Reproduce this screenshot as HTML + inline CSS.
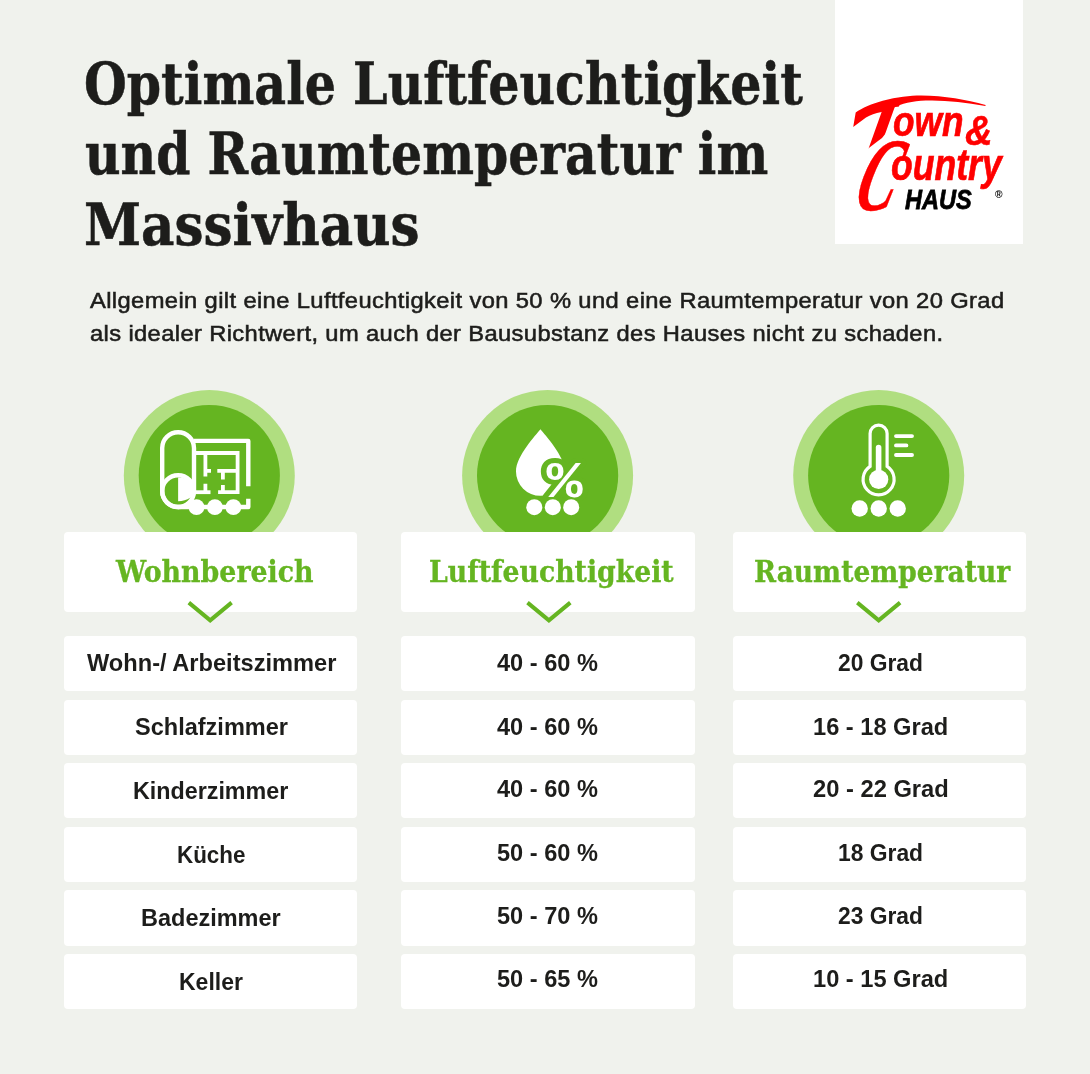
<!DOCTYPE html>
<html lang="de">
<head>
<meta charset="utf-8">
<title>Optimale Luftfeuchtigkeit und Raumtemperatur im Massivhaus</title>
<style>
html,body{margin:0;padding:0}
body{width:1090px;height:1074px;position:relative;overflow:hidden;background:#f0f2ed;font-family:"Liberation Sans",sans-serif}
h1,h2,p{margin:0;padding:0;font:inherit}
.logo{position:absolute;left:835.0px;top:0.0px;width:187.5px;height:243.7px;background:#fff}
.col{position:absolute;top:0;width:293.4px;height:1074px}
.box{position:absolute;left:0;width:293.4px;background:#fff;border-radius:4px}
.hd{top:532.0px;height:80.0px}
.rw{height:55.2px}
svg.pg{position:absolute;left:0;top:0;width:1090px;height:1074px;overflow:visible;pointer-events:none}
.tx{position:absolute;display:block;white-space:nowrap;line-height:0;margin:0}
.tx .st{display:inline-block;width:0;height:100px}
.tx .sx{display:inline-block;transform-origin:0 50%}
.capw{position:absolute;left:0;top:0;width:0;height:0}
.cap{position:absolute;display:block;white-space:nowrap;line-height:0;color:#ff0000;transform-origin:0 100px;-webkit-text-stroke:0}
</style>
</head>
<body>
<header>
<h1>
<span class="tx" style="left:83.82px;top:3.80px;font:700 condensed 58px 'DejaVu Serif Condensed','DejaVu Serif','Liberation Serif',serif;color:#1d1d1b;-webkit-text-stroke:0.5px #1d1d1b"><span class="st"></span><span class="sx" style="transform:scaleX(0.9407)">Optimale Luftfeuchtigkeit</span></span>
<span class="tx" style="left:84.76px;top:74.20px;font:700 condensed 58px 'DejaVu Serif Condensed','DejaVu Serif','Liberation Serif',serif;color:#1d1d1b;-webkit-text-stroke:0.5px #1d1d1b"><span class="st"></span><span class="sx" style="transform:scaleX(0.9379)">und Raumtemperatur im</span></span>
<span class="tx" style="left:83.72px;top:145.00px;font:700 condensed 58px 'DejaVu Serif Condensed','DejaVu Serif','Liberation Serif',serif;color:#1d1d1b;-webkit-text-stroke:0.5px #1d1d1b"><span class="st"></span><span class="sx" style="transform:scaleX(0.9884)">Massivhaus</span></span>
</h1>
<p>
<span class="tx" style="left:90.00px;top:207.60px;font:400 22.4px 'Liberation Sans',sans-serif;color:#1d1d1b;-webkit-text-stroke:0.55px #1d1d1b;letter-spacing:0.35px"><span class="st"></span><span class="sx" style="transform:scaleX(1.0606)">Allgemein gilt eine Luftfeuchtigkeit von 50 % und eine Raumtemperatur von 20 Grad</span></span>
<span class="tx" style="left:90.00px;top:240.60px;font:400 22.4px 'Liberation Sans',sans-serif;color:#1d1d1b;-webkit-text-stroke:0.55px #1d1d1b;letter-spacing:0.35px"><span class="st"></span><span class="sx" style="transform:scaleX(1.0597)">als idealer Richtwert, um auch der Bausubstanz des Hauses nicht zu schaden.</span></span>
</p>
<div class="logo">
<svg class="pg" style="left:-835.0px;top:-0.0px" viewBox="0 0 1090 1074"><!-- roof swoosh (decorative) --><path d="M853.2 127.1 L855.7 112.4 C862 108 872 103.5 882.7 100.7 C897 96.8 910 95.4 921 95.4 C945 95.6 966 99.5 985.6 104.9 L985.4 106 C966 102.6 948 100.3 931 100.4 C917 100.5 905 102 896.6 106.4 L881.5 112 C875 113.3 870.5 115 866 117.5 Z" fill="#ff0000"/></svg>
<span class="tx" style="left:57.67px;top:36.40px;font:italic 700 42.6px 'Liberation Sans',sans-serif;color:#ff0000;-webkit-text-stroke:0.7px #ff0000"><span class="st"></span><span class="capw" style="clip-path:polygon(-14.67px 70.60px,7.33px 67.60px,-5.67px 95.60px,-10.67px 101.60px,-25.17px 112.60px,-32.67px 112.60px)"><span class="cap" style="left:-43.68px;top:15.90px;font:700 78.6px 'Liberation Sans',sans-serif;transform:skewX(-19.6deg)"><span class="st"></span>T</span></span><span class="sx" style="transform:scaleX(0.8274)">own</span></span>
<span class="tx" style="left:130.20px;top:45.20px;font:italic 700 42.5px 'Liberation Sans',sans-serif;color:#ff0000;-webkit-text-stroke:0.5px #ff0000"><span class="st"></span><span class="sx" style="transform:scaleX(0.8963)">&amp;</span></span>
<span class="tx" style="left:56.11px;top:79.60px;font:italic 700 45px 'Liberation Sans',sans-serif;color:#ff0000;-webkit-text-stroke:0.7px #ff0000"><span class="st"></span><span class="capw"><span class="cap" style="left:-43.56px;top:30.70px;font:700 100px 'Liberation Serif',serif;-webkit-text-stroke:0.5px #ff0000;transform:skewX(-21deg) scale(0.5797,1.0421)"><span class="st"></span>C</span></span><span class="sx" style="transform:scaleX(0.7910)">ountry</span></span>
<span class="tx" style="left:69.60px;top:109.40px;font:italic 700 28px 'Liberation Sans',sans-serif;color:#000;-webkit-text-stroke:0.8px #000"><span class="st"></span><span class="sx" style="transform:scaleX(0.8411)">HAUS</span></span>
<span class="tx" style="left:159.80px;top:97.50px;font:700 10.5px 'Liberation Sans',sans-serif;color:#000"><span class="st"></span><span class="sx" style="transform:scaleX(0.9750)">®</span></span>
</div>
</header>
<main>
<section class="col" style="left:64.0px">
  <svg class="pg" style="left:-64.0px" viewBox="0 0 1090 1074">
   <circle cx="209.3" cy="475.6" r="85.5" fill="#b0de80"/><circle cx="209.3" cy="475.6" r="70.6" fill="#65b521"/>
   <!-- floor plan icon -->
   <g fill="none" stroke="#fff" stroke-width="4.4" stroke-linecap="round" stroke-linejoin="round">
    <path d="M178.1 507 A15.9 15.9 0 0 1 162.2 491.1 V448.1 A15.9 15.9 0 0 1 194 448.1 V491.1"/>
    <circle cx="178.1" cy="491.1" r="15.9"/>
    <path d="M178.1 507 H248.3 V498.7" stroke-linecap="butt"/>
    <path d="M194 440.9 H248.3 V486.3" stroke-linecap="butt"/>
   </g>
   <path d="M178.1 477.4 A17 11.9 0 0 1 178.1 501.2 Z" fill="#fff"/>
   <g fill="none" stroke="#fff" stroke-width="3.8">
    <path d="M195 453 H237.6 V492.2 H218.1"/>
    <path d="M195 492.2 H210.5"/>
    <path d="M205.4 453 V476.6 M205.4 470.9 H211 M205.4 483.8 V492.2"/>
    <path d="M217.3 470.9 H237.6 M222.9 470.9 V479.4 M222.9 485.1 V492.2"/>
   </g>
   <g fill="#fff"><circle cx="196.5" cy="507.2" r="7.9"/><circle cx="214.9" cy="507.2" r="7.9"/><circle cx="233.4" cy="507.2" r="7.9"/></g>
  </svg>
  <div class="box hd"><h2 class="tx" style="left:52.19px;top:-50.20px;font:700 condensed 30px 'DejaVu Serif Condensed','DejaVu Serif','Liberation Serif',serif;color:#65b521;-webkit-text-stroke:0.3px #65b521"><span class="st"></span><span class="sx" style="transform:scaleX(0.9937)">Wohnbereich</span></h2><svg class="pg" style="left:-64.0px;top:-532.0px" viewBox="0 0 1090 1074"><path d="M188.8 602.65 L210.2 620.3 L231.6 602.65" fill="none" stroke="#65b521" stroke-width="4"/></svg></div>
  <div class="box rw" style="top:636.0px"><div class="tx" style="left:22.50px;top:-65.00px;font:700 24px 'Liberation Sans',sans-serif;color:#1d1d1b"><span class="st"></span><span class="sx" style="transform:scaleX(0.9842)">Wohn-/ Arbeitszimmer</span></div></div>
  <div class="box rw" style="top:699.6px"><div class="tx" style="left:70.80px;top:-65.00px;font:700 24px 'Liberation Sans',sans-serif;color:#1d1d1b"><span class="st"></span><span class="sx" style="transform:scaleX(0.9800)">Schlafzimmer</span></div></div>
  <div class="box rw" style="top:763.2px"><div class="tx" style="left:69.13px;top:-64.30px;font:700 24px 'Liberation Sans',sans-serif;color:#1d1d1b"><span class="st"></span><span class="sx" style="transform:scaleX(0.9704)">Kinderzimmer</span></div></div>
  <div class="box rw" style="top:826.8px"><div class="tx" style="left:112.77px;top:-64.30px;font:700 24px 'Liberation Sans',sans-serif;color:#1d1d1b"><span class="st"></span><span class="sx" style="transform:scaleX(0.9333)">Küche</span></div></div>
  <div class="box rw" style="top:890.4px"><div class="tx" style="left:77.12px;top:-64.40px;font:700 24px 'Liberation Sans',sans-serif;color:#1d1d1b"><span class="st"></span><span class="sx" style="transform:scaleX(0.9789)">Badezimmer</span></div></div>
  <div class="box rw" style="top:954.0px"><div class="tx" style="left:115.24px;top:-64.00px;font:700 24px 'Liberation Sans',sans-serif;color:#1d1d1b"><span class="st"></span><span class="sx" style="transform:scaleX(0.9577)">Keller</span></div></div>
</section>
<section class="col" style="left:401.3px">
  <svg class="pg" style="left:-401.3px" viewBox="0 0 1090 1074">
   <circle cx="547.6" cy="475.6" r="85.5" fill="#b0de80"/><circle cx="547.6" cy="475.6" r="70.6" fill="#65b521"/>
   <!-- humidity icon -->
   <path d="M540.4 429.3 C536 435 516 456 516 471.4 A24.4 24.4 0 0 0 564.8 471.4 C564.8 456 545 435 540.4 429.3 Z" fill="#fff"/>
   <text transform="translate(546.50 497.05) scale(1.2557 1.0977)" font-family="'Liberation Mono',monospace" font-weight="700" font-size="48" fill="#fff" stroke="#65b521" stroke-width="9" stroke-linejoin="round" paint-order="stroke">%</text>
   <g fill="#fff"><circle cx="534.3" cy="507.2" r="8"/><circle cx="552.8" cy="507.2" r="8"/><circle cx="571.2" cy="507.2" r="8"/></g>
  </svg>
  <div class="box hd"><h2 class="tx" style="left:27.41px;top:-50.20px;font:700 condensed 30px 'DejaVu Serif Condensed','DejaVu Serif','Liberation Serif',serif;color:#65b521;-webkit-text-stroke:0.3px #65b521"><span class="st"></span><span class="sx" style="transform:scaleX(0.9892)">Luftfeuchtigkeit</span></h2><svg class="pg" style="left:-401.3px;top:-532.0px" viewBox="0 0 1090 1074"><path d="M527.5 602.65 L548.9 620.3 L570.3 602.65" fill="none" stroke="#65b521" stroke-width="4"/></svg></div>
  <div class="box rw" style="top:636.0px"><div class="tx" style="left:95.30px;top:-65.00px;font:700 24px 'Liberation Sans',sans-serif;color:#1d1d1b"><span class="st"></span><span class="sx" style="transform:scaleX(0.9825)">40 - 60 %</span></div></div>
  <div class="box rw" style="top:699.6px"><div class="tx" style="left:95.30px;top:-65.00px;font:700 24px 'Liberation Sans',sans-serif;color:#1d1d1b"><span class="st"></span><span class="sx" style="transform:scaleX(0.9825)">40 - 60 %</span></div></div>
  <div class="box rw" style="top:763.2px"><div class="tx" style="left:95.30px;top:-66.10px;font:700 24px 'Liberation Sans',sans-serif;color:#1d1d1b"><span class="st"></span><span class="sx" style="transform:scaleX(0.9825)">40 - 60 %</span></div></div>
  <div class="box rw" style="top:826.8px"><div class="tx" style="left:95.30px;top:-66.30px;font:700 24px 'Liberation Sans',sans-serif;color:#1d1d1b"><span class="st"></span><span class="sx" style="transform:scaleX(0.9825)">50 - 60 %</span></div></div>
  <div class="box rw" style="top:890.4px"><div class="tx" style="left:95.30px;top:-66.90px;font:700 24px 'Liberation Sans',sans-serif;color:#1d1d1b"><span class="st"></span><span class="sx" style="transform:scaleX(0.9825)">50 - 70 %</span></div></div>
  <div class="box rw" style="top:954.0px"><div class="tx" style="left:95.30px;top:-67.00px;font:700 24px 'Liberation Sans',sans-serif;color:#1d1d1b"><span class="st"></span><span class="sx" style="transform:scaleX(0.9825)">50 - 65 %</span></div></div>
</section>
<section class="col" style="left:732.5px">
  <svg class="pg" style="left:-732.5px" viewBox="0 0 1090 1074">
   <circle cx="878.7" cy="475.6" r="85.5" fill="#b0de80"/><circle cx="878.7" cy="475.6" r="70.6" fill="#65b521"/>
   <!-- thermometer icon -->
   <path d="M870.1 466.4 V433.6 A8.5 8.5 0 0 1 887.1 433.6 V466.4 A15.5 15.5 0 1 1 870.1 466.4 Z" fill="none" stroke="#fff" stroke-width="3.2"/>
   <path d="M878.6 447.5 V479" fill="none" stroke="#fff" stroke-width="5.6" stroke-linecap="round"/>
   <circle cx="878.7" cy="479.4" r="9.6" fill="#fff"/>
   <path d="M896 436.1 H912 M896 445.4 H906.4 M896 455 H912" fill="none" stroke="#fff" stroke-width="3.9" stroke-linecap="round"/>
   <g fill="#fff"><circle cx="859.7" cy="508.5" r="8.2"/><circle cx="878.7" cy="508.5" r="8.2"/><circle cx="897.7" cy="508.5" r="8.2"/></g>
  </svg>
  <div class="box hd"><h2 class="tx" style="left:21.82px;top:-50.20px;font:700 condensed 30px 'DejaVu Serif Condensed','DejaVu Serif','Liberation Serif',serif;color:#65b521;-webkit-text-stroke:0.3px #65b521"><span class="st"></span><span class="sx" style="transform:scaleX(0.9814)">Raumtemperatur</span></h2><svg class="pg" style="left:-732.5px;top:-532.0px" viewBox="0 0 1090 1074"><path d="M857.3 602.65 L878.7 620.3 L900.1 602.65" fill="none" stroke="#65b521" stroke-width="4"/></svg></div>
  <div class="box rw" style="top:636.0px"><div class="tx" style="left:105.70px;top:-65.00px;font:700 24px 'Liberation Sans',sans-serif;color:#1d1d1b"><span class="st"></span><span class="sx" style="transform:scaleX(0.9502)">20 Grad</span></div></div>
  <div class="box rw" style="top:699.6px"><div class="tx" style="left:80.82px;top:-65.00px;font:700 24px 'Liberation Sans',sans-serif;color:#1d1d1b"><span class="st"></span><span class="sx" style="transform:scaleX(0.9842)">16 - 18 Grad</span></div></div>
  <div class="box rw" style="top:763.2px"><div class="tx" style="left:80.30px;top:-66.10px;font:700 24px 'Liberation Sans',sans-serif;color:#1d1d1b"><span class="st"></span><span class="sx" style="transform:scaleX(0.9880)">20 - 22 Grad</span></div></div>
  <div class="box rw" style="top:826.8px"><div class="tx" style="left:105.55px;top:-66.30px;font:700 24px 'Liberation Sans',sans-serif;color:#1d1d1b"><span class="st"></span><span class="sx" style="transform:scaleX(0.9519)">18 Grad</span></div></div>
  <div class="box rw" style="top:890.4px"><div class="tx" style="left:105.70px;top:-66.90px;font:700 24px 'Liberation Sans',sans-serif;color:#1d1d1b"><span class="st"></span><span class="sx" style="transform:scaleX(0.9502)">23 Grad</span></div></div>
  <div class="box rw" style="top:954.0px"><div class="tx" style="left:80.82px;top:-67.00px;font:700 24px 'Liberation Sans',sans-serif;color:#1d1d1b"><span class="st"></span><span class="sx" style="transform:scaleX(0.9842)">10 - 15 Grad</span></div></div>
</section>
</main>
</body>
</html>
